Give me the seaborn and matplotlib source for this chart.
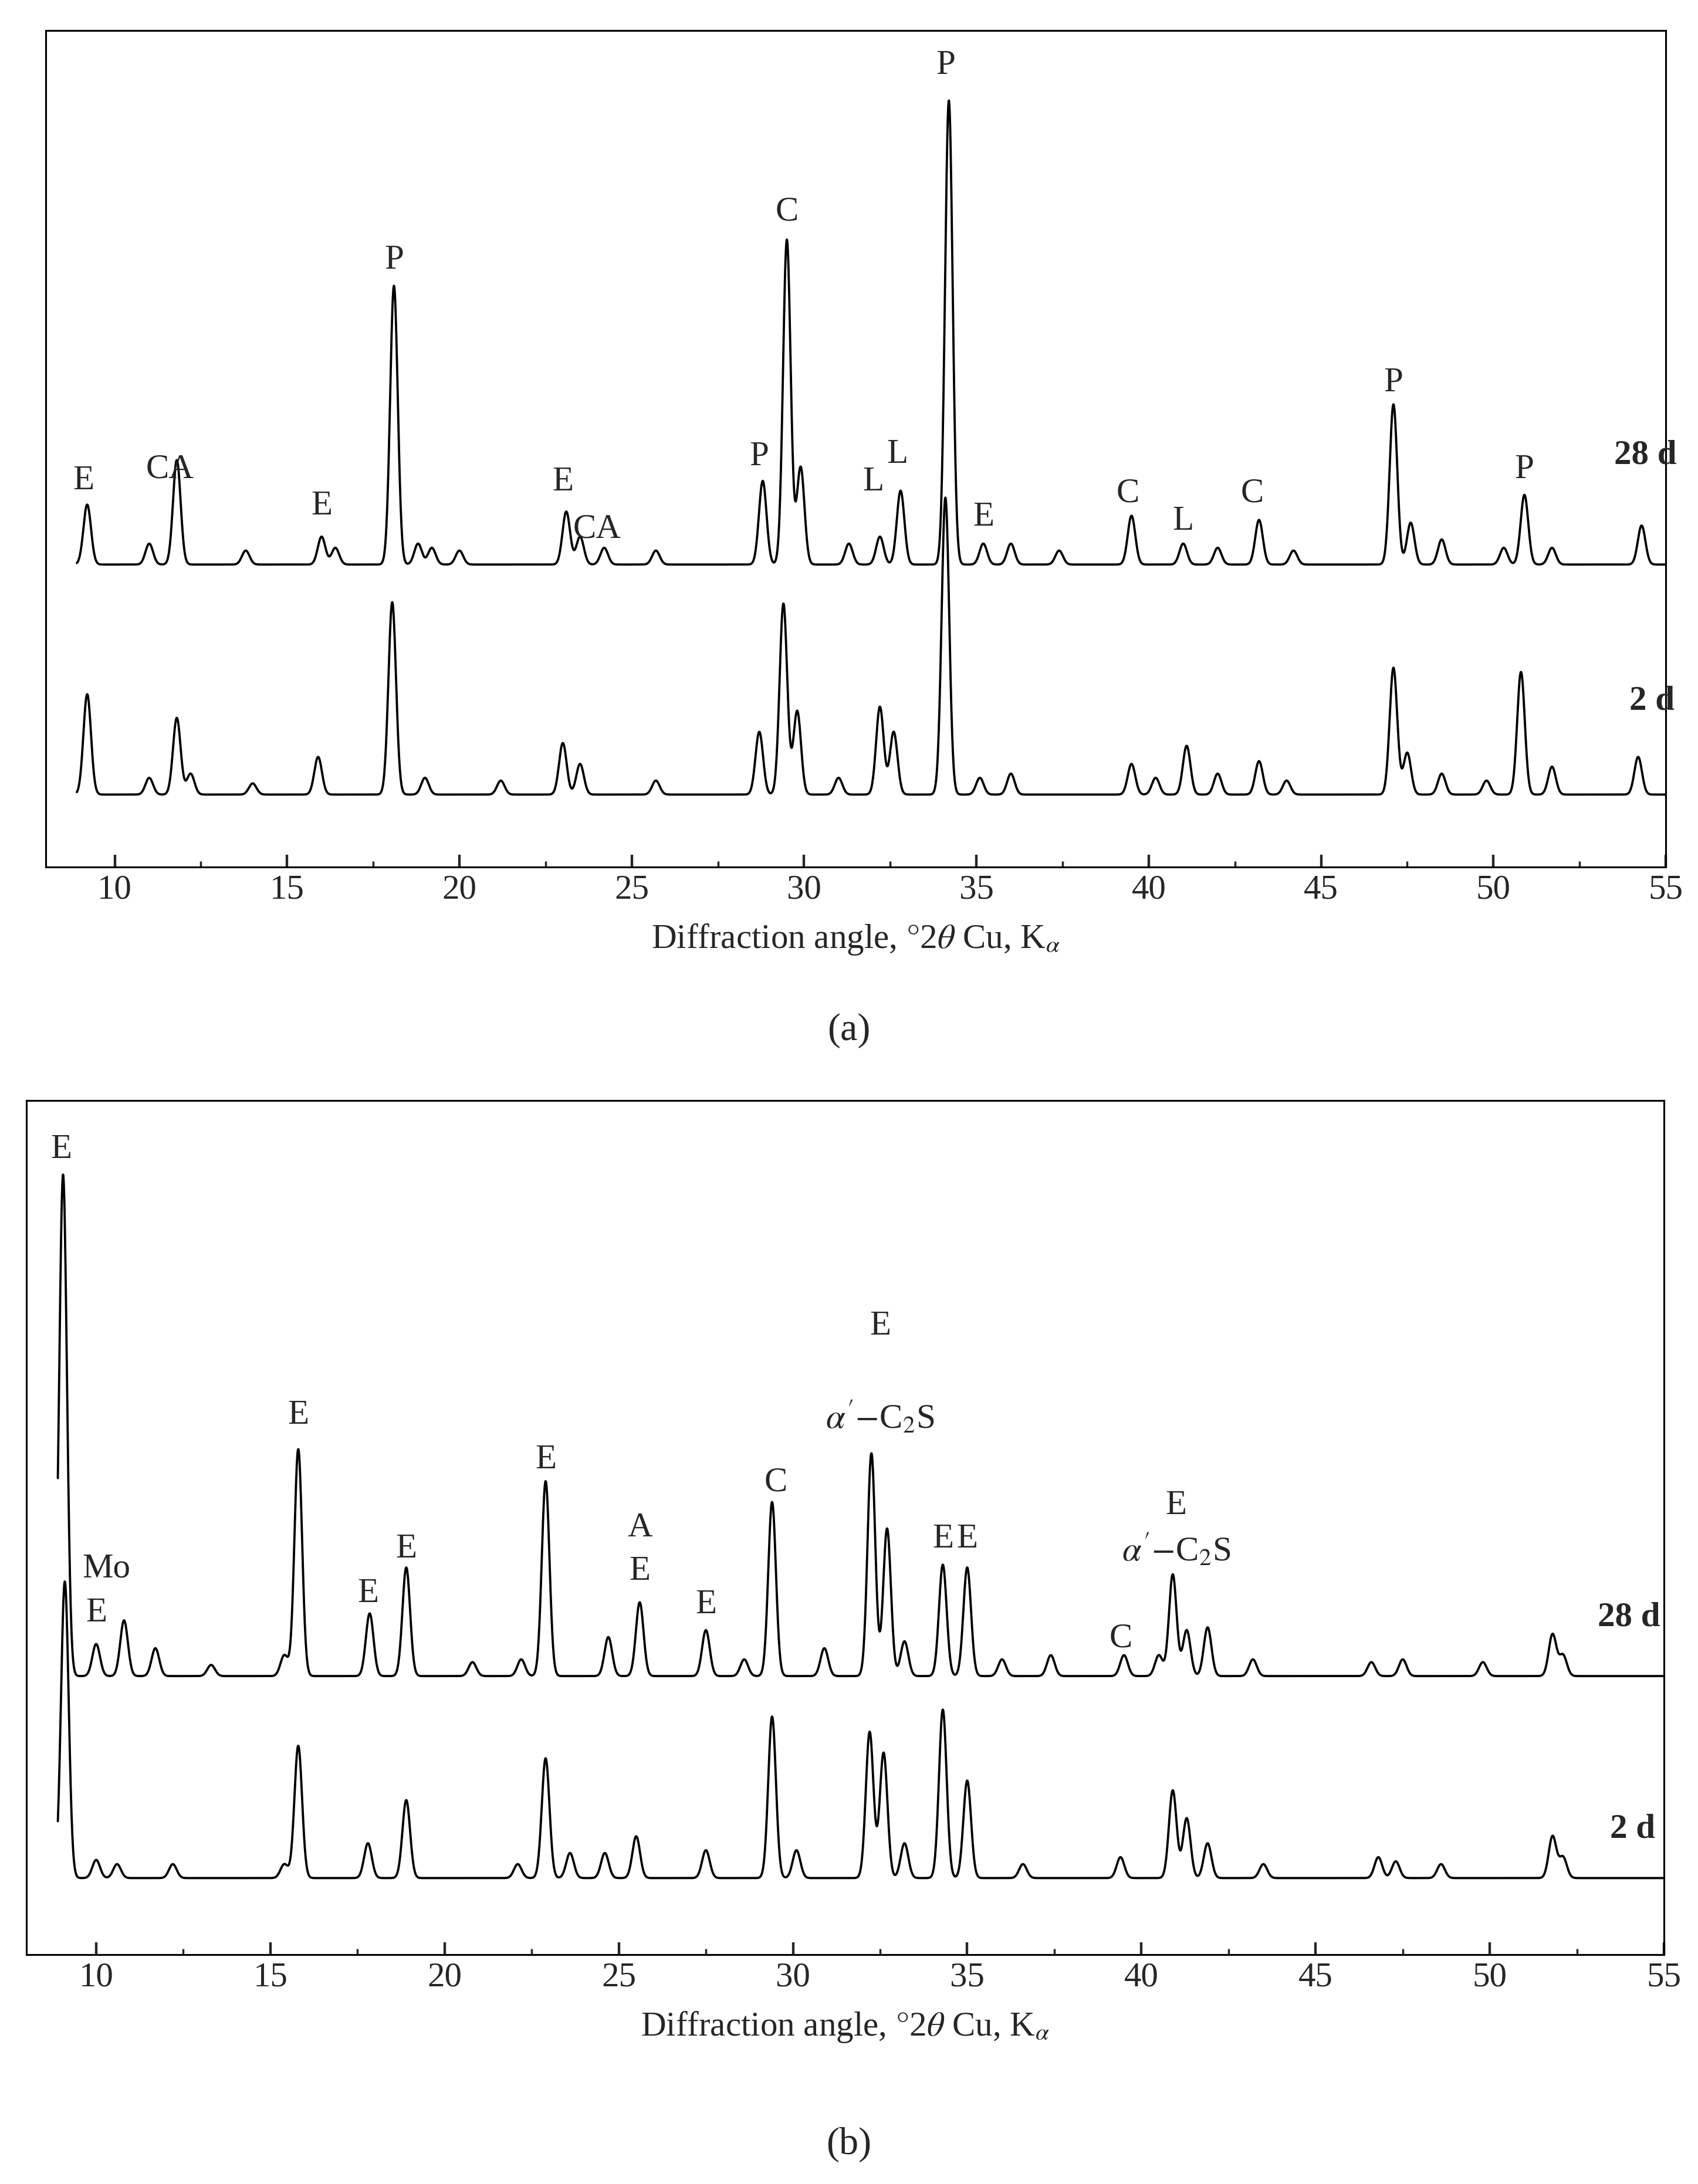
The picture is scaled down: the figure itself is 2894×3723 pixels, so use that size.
import numpy as np
import matplotlib.pyplot as plt
import seaborn as sns
from matplotlib.ticker import MultipleLocator

sns.set_theme(style="white")
plt.rcParams["font.family"] = ["Liberation Serif", "DejaVu Serif"]
plt.rcParams["mathtext.fontset"] = "stix"

# peak tables: position (deg 2theta), height above baseline
a28_pos = [9.2, 11.0, 11.8, 13.8, 16.0, 16.4, 18.1, 18.8, 19.2, 20.0, 23.1, 23.5, 24.2, 25.7,
           28.8, 29.5, 29.9, 31.3, 32.2, 32.8, 34.2, 35.2, 36.0, 37.4, 39.5, 41.0, 42.0,
           43.2, 44.2, 47.1, 47.6, 48.5, 50.3, 50.9, 51.7, 54.3]
a28_h = [43, 15, 75, 10, 20, 12, 200, 15, 12, 10, 38, 20, 12, 10,
         60, 233, 70, 15, 20, 53, 333, 15, 15, 10, 35, 15, 12,
         32, 10, 115, 30, 18, 12, 50, 12, 28]
a2_pos = [9.2, 11.0, 11.8, 12.2, 14.0, 15.9, 18.05, 19.0, 21.2, 23.0, 23.5, 25.7, 28.7,
          29.4, 29.8, 31.0, 32.2, 32.6, 34.1, 35.1, 36.0, 39.5, 40.2, 41.1, 42.0, 43.2,
          44.0, 47.1, 47.5, 48.5, 49.8, 50.8, 51.7, 54.2]
a2_h = [72, 12, 55, 15, 8, 27, 138, 12, 10, 37, 22, 10, 45,
        137, 60, 12, 63, 45, 213, 12, 15, 22, 12, 35, 15, 24,
        10, 91, 30, 15, 10, 88, 20, 27]
b28_pos = [9.05, 10.0, 10.8, 11.7, 13.3, 15.4, 15.8, 17.85, 18.9, 20.8, 22.2, 22.9, 24.7,
           25.6, 27.5, 28.6, 29.4, 30.9, 32.25, 32.7, 33.2, 34.3, 35.0, 36.0, 37.4, 39.5,
           40.5, 40.9, 41.3, 41.9, 43.2, 46.6, 47.5, 49.8, 51.8, 52.1]
b28_h = [360, 23, 40, 20, 8, 15, 163, 45, 78, 10, 12, 140, 28,
         53, 33, 12, 125, 20, 160, 106, 25, 80, 78, 12, 15, 15,
         15, 73, 33, 35, 12, 10, 12, 10, 30, 15]
b2_pos = [9.1, 10.0, 10.6, 12.2, 15.4, 15.8, 17.8, 18.9, 22.1, 22.9, 23.6, 24.6, 25.5,
          27.5, 29.4, 30.1, 32.2, 32.6, 33.2, 34.3, 35.0, 36.6, 39.4, 40.9, 41.3, 41.9,
          43.5, 46.8, 47.3, 48.6, 51.8, 52.1]
b2_h = [213, 13, 10, 10, 10, 95, 25, 56, 10, 86, 18, 18, 30,
        20, 116, 20, 105, 90, 25, 121, 70, 10, 15, 63, 43, 25,
        10, 15, 12, 10, 30, 15]

# baselines (pixel-like units, y up)
a_base = [217, 52]
b_base = [200, 55]

a_labels = [("E", 9.1, 277), ("CA", 11.6, 285), ("E", 16.0, 259), ("P", 18.1, 435),
            ("E", 23.0, 276), ("CA", 24.0, 242), ("P", 28.7, 294), ("C", 29.5, 470),
            ("L", 32.0, 276), ("L", 32.7, 296), ("P", 34.1, 575), ("E", 35.2, 251),
            ("C", 39.4, 268), ("L", 41.0, 248), ("C", 43.0, 268), ("P", 47.1, 347),
            ("P", 50.9, 285)]
b_labels = [("E", 9.0, 578), ("Mo", 10.3, 277), ("E", 10.0, 245), ("E", 15.8, 387),
            ("E", 17.8, 259), ("E", 18.9, 291), ("E", 22.9, 355), ("A", 25.6, 306),
            ("E", 25.6, 275), ("E", 27.5, 251), ("C", 29.5, 339), ("E", 32.5, 451),
            (r"$\alpha'$$-$C$_2$S", 32.5, 385), ("E", 34.3, 298), ("E", 35.0, 298),
            ("C", 39.4, 227), ("E", 41.0, 322), (r"$\alpha'$$-$C$_2$S", 41.0, 290)]

x = np.linspace(8.9, 55, 4000)


def pattern(pos, h, base, width=0.11):
    y = np.full_like(x, float(base))
    for p, hh in zip(pos, h):
        y += hh * np.exp(-0.5 * ((x - p) / width) ** 2)
    return y


fig = plt.figure(figsize=(2894 / 250, 3723 / 250), dpi=250)
ax_a = fig.add_axes([0.027, 0.603, 0.954, 0.383])
ax_b = fig.add_axes([0.0156, 0.105, 0.9644, 0.391])

panels = [
    (ax_a, [(a28_pos, a28_h), (a2_pos, a2_h)], a_base, a_labels, 600,
     [(54.4, 295, "28 d"), (54.6, 119, "2 d")]),
    (ax_b, [(b28_pos, b28_h), (b2_pos, b2_h)], b_base, b_labels, 613,
     [(54.0, 242, "28 d"), (54.1, 90, "2 d")]),
]

for ax, series, bases, labels, top, names in panels:
    for (pos, h), base in zip(series, bases):
        sns.lineplot(x=x, y=pattern(pos, h, base), ax=ax, color="black", lw=1.1)
    for txt, lx, ly in labels:
        ax.text(lx, ly, txt, ha="center", va="center", fontsize=17)
    for lx, ly, txt in names:
        ax.text(lx, ly, txt, ha="center", va="center", fontsize=17, fontweight="bold")
    ax.set_xlim(8, 55)
    ax.set_ylim(0, top)
    ax.set_yticks([])
    ax.xaxis.set_major_locator(MultipleLocator(5))
    ax.xaxis.set_minor_locator(MultipleLocator(2.5))
    ax.tick_params(axis="x", which="both", bottom=True, direction="in", labelsize=17)
    ax.tick_params(axis="x", which="major", length=6)
    ax.tick_params(axis="x", which="minor", length=3)
    for s in ax.spines.values():
        s.set_color("black")
        s.set_linewidth(0.9)
    ax.set_xlabel(r"Diffraction angle, $\degree$2$\theta$ Cu, K$_\alpha$", fontsize=17,
                  labelpad=8)

fig.text(0.5, 0.528, "(a)", ha="center", va="center", fontsize=19)
fig.text(0.5, 0.018, "(b)", ha="center", va="center", fontsize=19)

fig.savefig("out.png", dpi=250, facecolor="white")
